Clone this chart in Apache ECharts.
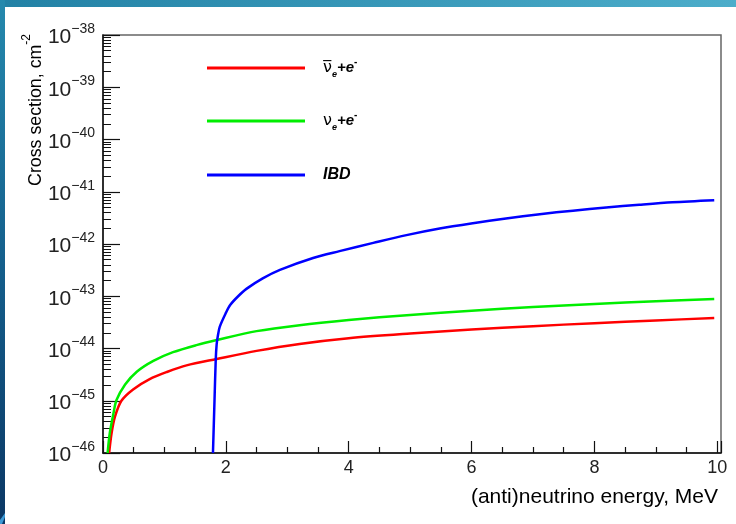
<!DOCTYPE html>
<html><head><meta charset="utf-8">
<script src="https://cdn.jsdelivr.net/npm/echarts@6/dist/echarts.min.js"></script>
<style>html,body{margin:0;padding:0;background:#fff}#c{width:736px;height:524px}</style>
</head><body><div id="c"></div>
<script>
// ---- data (cross sections in cm^2, energies in MeV) ----
const seriesNames = ['antinu_e + e-', 'nu_e + e-', 'IBD'];
const seriesColors = ['#ff0000', '#00ee00', '#0000ff'];

const antiNueEnergy = [0.10, 0.14, 0.195, 0.30, 0.49, 0.76, 1.04, 1.36, 1.85, 2.5, 3.2, 4.0, 5.0, 6.0, 7.0, 8.0, 9.0, 9.95];
const antiNueSigma  = [1e-46, 2.4e-46, 4.95e-46, 1.0e-45, 1.65e-45, 2.6e-45, 3.55e-45, 4.75e-45, 6.3e-45, 9.0e-45, 1.22e-44, 1.57e-44, 1.93e-44, 2.3e-44, 2.68e-44, 3.05e-44, 3.45e-44, 3.82e-44];

const nueEnergy = [0.075, 0.11, 0.17, 0.22, 0.36, 0.55, 0.82, 1.14, 1.52, 1.85, 2.5, 3.2, 4.0, 5.0, 6.0, 7.0, 8.0, 9.0, 9.95];
const nueSigma  = [1e-46, 2.4e-46, 5.7e-46, 1.03e-45, 2.05e-45, 3.6e-45, 5.8e-45, 8.5e-45, 1.16e-44, 1.45e-44, 2.15e-44, 2.8e-44, 3.5e-44, 4.4e-44, 5.3e-44, 6.2e-44, 7.1e-44, 8.05e-44, 8.9e-44];

const ibdEnergy = [1.79, 1.815, 1.835, 1.85, 1.87, 1.9, 2.0, 2.07, 2.2, 2.34, 2.6, 2.88, 3.42, 3.85, 4.40, 4.94, 5.48, 6.02, 6.56, 7.11, 7.65, 8.19, 8.73, 9.27, 9.95];
const ibdSigma  = [1e-46, 1e-45, 6e-45, 1.2e-44, 1.75e-44, 2.6e-44, 4.8e-44, 6.8e-44, 1.0e-43, 1.4e-43, 2.2e-43, 3.2e-43, 5.4e-43, 7.3e-43, 1.05e-42, 1.48e-42, 1.98e-42, 2.5e-42, 3.08e-42, 3.72e-42, 4.35e-42, 5.0e-42, 5.65e-42, 6.3e-42, 6.9e-42];

const xTickLabels = ['0', '2', '4', '6', '8', '10'];
const yMinExponent = -46;
const yMaxExponent = -38;

// ---- build ----
const UNIT = Math.pow(10, yMinExponent); // axis works in units of 1e-46 cm^2
function pairs(xs, ys) { return xs.map((x, i) => [x, ys[i] / UNIT]); }

const decades = yMaxExponent - yMinExponent;
const minorTickPos = [];
for (let n = 0; n < decades; n++) for (let k = 2; k <= 9; k++) minorTickPos.push(n + Math.log10(k));

const FONT = '"Liberation Sans", Arial, Helvetica, sans-serif';

const legendRich = {
  gap: { width: 13 },
  nu: { fontSize: 16, fontFamily: '"DejaVu Sans", ' + FONT, lineHeight: 22, verticalAlign: 'middle', color: '#000' },
  sub: { fontSize: 9, fontStyle: 'italic', fontWeight: 'bold', fontFamily: FONT, lineHeight: 12, verticalAlign: 'bottom', color: '#000' },
  pe: { fontSize: 15, fontStyle: 'italic', fontWeight: 'bold', fontFamily: FONT, lineHeight: 22, verticalAlign: 'middle', color: '#000' },
  sup: { fontSize: 10, fontWeight: 'bold', fontFamily: FONT, lineHeight: 10, verticalAlign: 'top', color: '#000' },
  ibd: { fontSize: 16, fontStyle: 'italic', fontWeight: 'bold', fontFamily: FONT, lineHeight: 22, verticalAlign: 'middle', color: '#000' }
};
const legendText = {
  'antinu_e + e-': '{gap| }{nu|\u03bd\u0305}{sub|e}{pe|+e}{sup|-}',
  'nu_e + e-': '{gap| }{nu|\u03bd}{sub|e}{pe|+e}{sup|-}',
  'IBD': '{gap| }{ibd|IBD}'
};
const legendTops = [57, 110, 164];

const chart = echarts.init(document.getElementById('c'), null, { renderer: 'canvas' });
chart.setOption({
  animation: false,
  backgroundColor: '#ffffff',
  graphic: [
    { type: 'rect', z: 100, shape: { x: 0, y: 0, width: 736, height: 7 },
      style: { fill: new echarts.graphic.LinearGradient(0, 0, 1, 0, [{ offset: 0, color: '#2281a5' }, { offset: 1, color: '#4cadca' }]) } },
    { type: 'rect', z: 100, shape: { x: 0, y: 0, width: 5, height: 524 },
      style: { fill: new echarts.graphic.LinearGradient(0, 0, 0, 1, [{ offset: 0, color: '#2589ad' }, { offset: 0.5, color: '#145f8c' }, { offset: 1, color: '#0b3764' }]) } },
    { type: 'polygon', z: 101, shape: { points: [[0, 520], [5, 513], [5, 517], [2, 524], [0, 524]] }, style: { fill: '#3d9ad6' } },
    { type: 'text', x: 718, y: 497, style: { text: '(anti)neutrino energy, MeV', font: '21px ' + FONT, fill: '#000', align: 'right', verticalAlign: 'middle' } },
    { type: 'text', x: 33, y: 34, rotation: Math.PI / 2,
      style: { text: '{m|Cross section, cm}{s|-2}', align: 'right', verticalAlign: 'middle',
        rich: { m: { fontSize: 17.8, fontFamily: FONT, fill: '#000', lineHeight: 24, verticalAlign: 'bottom' },
                s: { fontSize: 12, fontFamily: FONT, fill: '#000', lineHeight: 12, verticalAlign: 'top' } } } }
  ],
  grid: { left: 103, right: 15, top: 35, bottom: 71, show: true, borderColor: '#666', borderWidth: 1.5, backgroundColor: 'transparent' },
  legend: seriesNames.map((name, i) => ({
    data: [name], left: 207, top: legendTops[i], padding: 0, icon: 'rect', itemWidth: 98, itemHeight: 3,
    selectedMode: false, formatter: (n) => legendText[n],
    textStyle: { rich: legendRich, lineHeight: 22 }
  })),
  xAxis: {
    type: 'value', min: 0, max: 10.06, interval: 2,
    axisLine: { show: true, onZero: false, lineStyle: { color: '#111', width: 1.5 } },
    axisTick: { show: true, inside: true, length: 12, lineStyle: { color: '#111', width: 1.2 } },
    minorTick: { show: true, splitNumber: 4, length: 6, lineStyle: { color: '#111', width: 1.2 } },
    splitLine: { show: false },
    axisLabel: { show: true, margin: 6, fontSize: 18, fontFamily: FONT, color: '#222', showMaxLabel: false,
      formatter: (v) => { const i = Math.round(v / 2); return Math.abs(v - i * 2) < 1e-6 ? xTickLabels[i] : ''; } }
  },
  yAxis: [
    {
      type: 'log', logBase: 10, min: 1, max: Math.pow(10, decades),
      axisLine: { show: true, lineStyle: { color: '#111', width: 1.5 } },
      axisTick: { show: true, inside: true, length: 17, lineStyle: { color: '#111', width: 1.2 } },
      splitLine: { show: false },
      axisLabel: { margin: 8, color: '#222',
        formatter: (v) => { const e = Math.round(Math.log10(v)) + yMinExponent; return '{b|10}{s|\u2212' + Math.abs(e) + '}'; },
        rich: { b: { fontSize: 21, fontFamily: FONT, color: '#222', lineHeight: 26, verticalAlign: 'bottom' },
                s: { fontSize: 14, fontFamily: FONT, color: '#222', lineHeight: 14, verticalAlign: 'top' } } }
    },
    {
      type: 'value', min: 0, max: decades, position: 'left',
      axisLine: { show: false }, axisLabel: { show: false }, splitLine: { show: false },
      axisTick: { show: true, inside: true, length: 8, customValues: minorTickPos, lineStyle: { color: '#111', width: 1 } }
    }
  ],
  series: [
    { name: seriesNames[0], type: 'line', data: pairs(antiNueEnergy, antiNueSigma) },
    { name: seriesNames[1], type: 'line', data: pairs(nueEnergy, nueSigma) },
    { name: seriesNames[2], type: 'line', data: pairs(ibdEnergy, ibdSigma) }
  ].map((s, i) => Object.assign(s, {
    yAxisIndex: 0, showSymbol: false, symbol: 'none', smooth: 0.3, clip: true,
    color: seriesColors[i], lineStyle: { color: seriesColors[i], width: 2.5 }
  }))
});
</script></body></html>
